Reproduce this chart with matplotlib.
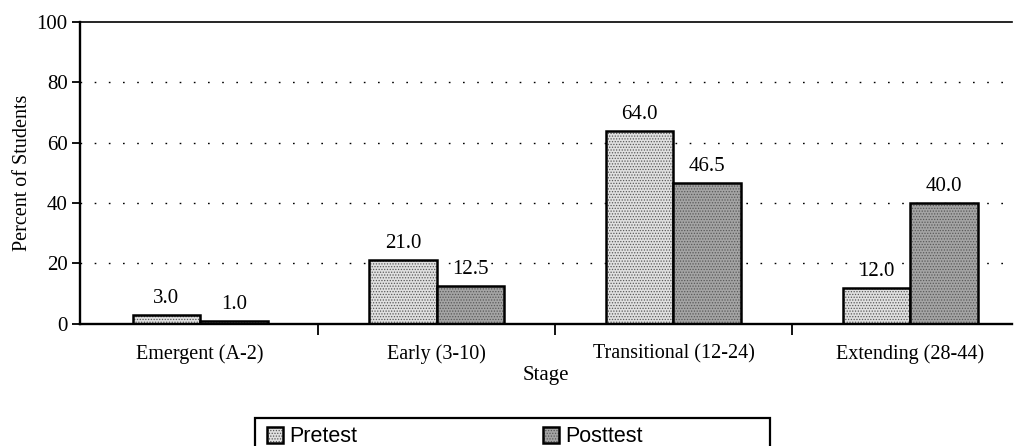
import numpy as np
import matplotlib
matplotlib.use('Agg')
import matplotlib.pyplot as plt
from matplotlib.ticker import FixedLocator
from matplotlib.patches import Rectangle

# ---- data ----
stages = ['Emergent (A-2)', 'Early (3-10)', 'Transitional (12-24)', 'Extending (28-44)']
pretest = [3.0, 21.0, 64.0, 12.0]
posttest = [1.0, 12.5, 46.5, 40.0]
yticks = [0, 20, 40, 60, 80, 100]

plt.rcParams['font.family'] = ['Liberation Serif', 'DejaVu Serif']
plt.rcParams['hatch.linewidth'] = 0.6

W, H = 1014, 446
fig = plt.figure(figsize=(W / 100, H / 100), dpi=100)
ax = fig.add_axes([0.079, 0.274, 0.919, 0.677])

x = np.arange(len(stages))
w = 0.285
b1 = ax.bar(x - w / 2, pretest, w, color='#e0e0e0', edgecolor='black',
            linewidth=1.8, hatch='......', label='Pretest')
b2 = ax.bar(x + w / 2, posttest, w, color='#a4a4a4', edgecolor='black',
            linewidth=1.8, hatch='......', label='Posttest')
for bars in (b1, b2):
    for patch in bars:
        patch._hatch_color = (0.35, 0.35, 0.35, 1.0)

for xi, v in zip(x - w / 2, pretest):
    ax.annotate(f'{v:.1f}', (xi, v), xytext=(0, 5), textcoords='offset points',
                ha='center', va='bottom', fontsize=15)
for xi, v in zip(x + w / 2, posttest):
    ax.annotate(f'{v:.1f}', (xi, v), xytext=(0, 5), textcoords='offset points',
                ha='center', va='bottom', fontsize=15)

# dotted grid
for g in [20, 40, 60, 80]:
    ax.axhline(g, color='black', lw=1.0, ls=(0, (1.2, 9)), zorder=0)

ax.set_xlim(-0.507, 3.43)
ax.set_ylim(0, 100)
ax.set_yticks(yticks)
ax.tick_params(axis='y', labelsize=15, length=6, width=1.3, direction='out', pad=3)
ax.set_xticks(x)
ax.set_xticklabels(stages, fontsize=14.5)
ax.tick_params(axis='x', which='major', length=0, pad=15)
ax.xaxis.set_minor_locator(FixedLocator([0.5, 1.5, 2.5]))
ax.tick_params(axis='x', which='minor', length=8, width=1.3, direction='out')

ax.spines['right'].set_visible(False)
for s in ['left', 'bottom']:
    ax.spines[s].set_linewidth(1.7)
ax.spines['top'].set_linewidth(1.2)

ax.set_ylabel('Percent of Students', fontsize=14.5, labelpad=3)
ax.set_xlabel('Stage', fontsize=15, labelpad=1)

# legend (frame drawn separately, it runs off the bottom edge)
leg = fig.legend(handles=[b1, b2], loc='center left',
                 bbox_to_anchor=(267 / W, 1 - 437 / H),
                 ncol=2, frameon=False,
                 prop={'family': 'Liberation Sans', 'size': 15.5},
                 handlelength=0.75, handleheight=0.75, handletextpad=0.3,
                 columnspacing=8.6, borderpad=0, borderaxespad=0)
fig.patches.append(Rectangle((255 / W, -0.05), 515 / W, 0.05 + 28 / H,
                             transform=fig.transFigure, fill=False,
                             edgecolor='black', linewidth=1.6))

fig.savefig('out.png', dpi=100)
